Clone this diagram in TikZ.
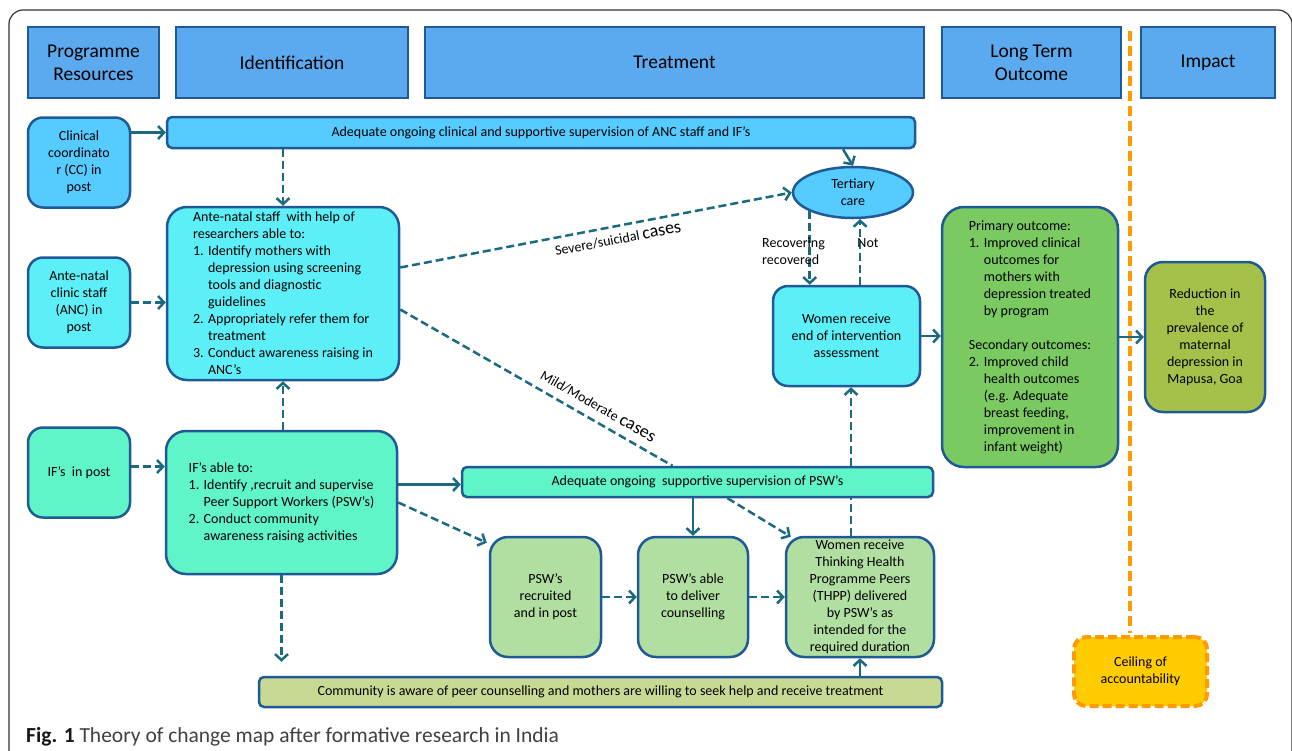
\documentclass[tikz,border=0pt]{standalone}
\usepackage{fontspec}
\setmainfont{Carlito}
\usetikzlibrary{arrows.meta}
\usetikzlibrary{shapes.geometric}
\usetikzlibrary{calc}
\definecolor{hdrfill}{HTML}{5BA9EF}
\definecolor{edgeblue}{HTML}{1F5A96}
\definecolor{skyfill}{HTML}{55CBFF}
\definecolor{cyanfill}{HTML}{5DEFF7}
\definecolor{aquafill}{HTML}{60F5C9}
\definecolor{pswfill}{HTML}{B1DEA1}
\definecolor{commfill}{HTML}{C8D994}
\definecolor{outfill}{HTML}{7ACA61}
\definecolor{impfill}{HTML}{A6C14A}
\definecolor{arrowteal}{HTML}{1B6A80}
\definecolor{ceilorange}{HTML}{FF9A00}
\definecolor{ceilfill}{HTML}{FFCC00}
\newcommand{\lnum}[1]{\makebox[15pt][l]{#1}}
\newcommand{\lindent}{\hspace*{15pt}}

\begin{document}
\begin{tikzpicture}[x=1pt, y=-1pt,
        header/.style={draw=edgeblue, fill=hdrfill, line width=2pt, align=center,
            minimum height=71pt, inner sep=0pt, font=\fontsize{19.5}{23}\selectfont},
        box/.style={draw=edgeblue, line width=2.5pt, align=center, inner sep=0pt,
            font=\fontsize{14}{17}\selectfont},
        resbox/.style={box, rounded corners=15pt, minimum width=102pt, minimum height=90pt},
        pswbox/.style={box, fill=pswfill, rounded corners=18pt, minimum height=120pt},
        bar/.style={box, rounded corners=5pt, minimum height=30pt},
        dline/.style={draw=arrowteal, line width=2.5pt, dash pattern=on 8pt off 4pt},
        conn/.style={draw=arrowteal, line width=2.5pt, -{Straight Barb[length=6pt,width=13pt]}},
        dconn/.style={conn, dash pattern=on 8pt off 4pt},
        lbl/.style={font=\fontsize{14}{17}\selectfont, inner sep=2pt}]

    \useasboundingbox (0,0) rectangle (1292,750);
    \clip (0,0) rectangle (1292,750);
    \draw[black!80, line width=1.2pt, rounded corners=14pt] (9,10) rectangle (1292,765);

    % column headers
    \node[header, minimum width=131pt] (hres) at (93.5,62.5) {Programme\\Resources};
    \node[header, minimum width=232pt] (hid) at (292,62.5) {Identification};
    \node[header, minimum width=499pt] (htreat) at (674.5,62.5) {Treatment};
    \node[header, minimum width=179pt] (hlong) at (1031.5,62.5) {Long Term\\Outcome};
    \node[header, minimum width=134pt] (himp) at (1208,62.5) {Impact};

    % ceiling of accountability
    \coordinate (ceiltop) at (1130,31);
    \node[draw=ceilorange, fill=ceilfill, line width=4pt, dash pattern=on 9pt off 4pt,
        rounded corners=12pt, minimum width=133pt, minimum height=69pt, align=center,
        font=\fontsize{14}{17}\selectfont] (ceiling) at (1140.5,671.5) {Ceiling of\\accountability};
    \draw[ceilorange, line width=4pt, dash pattern=on 10pt off 5pt] (ceiltop) -- ([yshift=2pt]ceiltop |- ceiling.north);

    % programme resources
    \node[resbox, fill=skyfill] (cc) at (79,162.5) {Clinical\\coordinato\\r (CC) in\\post};
    \node[resbox, fill=cyanfill] (ancstaff) at (79,302.5) {Ante-natal\\clinic staff\\(ANC) in\\post};
    \node[resbox, fill=aquafill] (ifpost) at (79,472.5) {IF’s\ \ in post};

    % identification
    \node[bar, fill=skyfill, minimum width=748pt, minimum height=31pt] (supanc) at (541,132.5)
        {Adequate ongoing clinical and supportive supervision of ANC staff and IF’s};
    \node[box, fill=cyanfill, rounded corners=20pt, minimum width=232pt, minimum height=173pt,
        align=left] (anc) at (283,293.5)
        {Ante-natal staff\ \ with help of\\
         researchers able to:\\
         \lnum{1.}Identify mothers with\\
         \lindent depression using screening\\
         \lindent tools and diagnostic\\
         \lindent guidelines\\
         \lnum{2.}Appropriately refer them for\\
         \lindent treatment\\
         \lnum{3.}Conduct awareness raising in\\
         \lindent ANC’s};
    \node[box, fill=aquafill, rounded corners=20pt, minimum width=231pt, minimum height=143pt,
        align=left] (ifable) at (281.5,502.5)
        {IF’s able to:\\
         \lnum{1.}Identify ,recruit and supervise\\
         \lindent Peer Support Workers (PSW’s)\\
         \lnum{2.}Conduct community\\
         \lindent awareness raising activities};

    % treatment
    \node[box, ellipse, fill=skyfill, minimum width=120pt, minimum height=51pt] (tert) at (853,192.5) {Tertiary\\care};
    \node[box, fill=cyanfill, rounded corners=15pt, minimum width=147pt, minimum height=100pt] (assess)
        at (846.5,336) {Women receive\\end of intervention\\assessment};
    \node[bar, fill=aquafill, minimum width=471pt] (suppsw) at (697.5,482)
        {Adequate ongoing\ \ supportive supervision of PSW’s};
    \node[pswbox, minimum width=111pt] (pswrec) at (545.5,597) {PSW’s\\recruited\\and in post};
    \node[pswbox, minimum width=110pt] (pswable) at (693,597) {PSW’s able\\to deliver\\counselling};
    \node[pswbox, minimum width=148pt] (thpp) at (860,597)
        {Women receive\\Thinking Health\\Programme Peers\\(THPP) delivered\\by PSW’s as\\intended for the\\required duration};
    \node[bar, fill=commfill, minimum width=683pt] (comm) at (600.5,692)
        {Community is aware of peer counselling and mothers are willing to seek help and receive treatment};

    % outcome and impact
    \node[box, fill=outfill, rounded corners=22pt, minimum width=176pt, minimum height=260pt,
        align=left] (primary) at (1030,337)
        {Primary outcome:\\
         \lnum{1.}Improved clinical\\
         \lindent outcomes for\\
         \lindent mothers with\\
         \lindent depression treated\\
         \lindent by program\\[17pt]
         Secondary outcomes:\\
         \lnum{2.}Improved child\\
         \lindent health outcomes\\
         \lindent (e.g. Adequate\\
         \lindent breast feeding,\\
         \lindent improvement in\\
         \lindent infant weight)};
    \node[box, fill=impfill, rounded corners=18pt, minimum width=120pt, minimum height=150pt] (impact)
        at (1205,337) {Reduction in\\the\\prevalence of\\maternal\\depression in\\Mapusa, Goa};

    % connectors
    \draw[conn] (cc.east |- supanc.west) -- (supanc.west);
    \draw[dconn] (anc.north |- supanc.south) -- (anc.north);
    \draw[conn] ([xshift=-10pt]tert.north |- supanc.south) -- (tert.north);
    \draw[dconn] (ancstaff.east) -- (ancstaff.east -| anc.west);
    \draw[dconn] (ifable.north -| anc.south) -- (anc.south);
    \draw[dconn] ([yshift=26pt]anc.east) -- (tert.west)
        node[lbl, sloped, below=5pt, pos=0.55] {Severe/suicidal {\fontsize{18}{18}\selectfont cases}};
    \draw[dline] ([yshift=-16pt]anc.east) -- ([xshift=-25pt]suppsw.north)
        node[lbl, sloped, above=6pt, pos=0.7] {Mild/Moderate {\fontsize{18}{18}\selectfont cases}};
    \draw[dconn] (tert.south west) -- (tert.south west |- assess.north);
    \draw[dconn] (tert.-75 |- assess.north) -- (tert.-75);
    \node[lbl, align=left, anchor=west] (recov) at (760,251) {Recovering\\recovered};
    \node[lbl] (notlbl) at (868,243) {Not};
    \draw[conn] (assess.east) -- (assess.east -| primary.west);
    \draw[conn] (primary.east) -- (impact.west);
    \draw[dconn] ([yshift=6pt]ifpost.east) -- ([yshift=6pt]ifpost.east -| ifable.west);
    \draw[conn] ([yshift=18pt]ifable.east) -- ([yshift=18pt]ifable.east -| suppsw.west);
    \draw[dconn] (ifable.east) -- ([xshift=-2pt,yshift=-7pt]pswrec.north west);
    \draw[dconn, shorten >=14pt] (ifable.south) -- (ifable.south |- comm.north);
    \draw[conn] (pswable.north |- suppsw.south) -- (pswable.north);
    \draw[dconn] ([xshift=30pt]suppsw.south) -- ([xshift=6pt,yshift=-1pt]thpp.north west);
    \coordinate (thppup) at ([xshift=-9pt]thpp.north);
    \draw[dline] (thppup) -- (thppup |- suppsw.south);
    \draw[dconn] (thppup |- suppsw.north) -- (thppup |- assess.south);
    \draw[dconn] (pswrec.east) -- (pswable.west);
    \draw[dconn] (pswable.east) -- (thpp.west);
    \draw[conn] (thpp.south |- comm.north) -- (thpp.south);

    % caption
    \node[anchor=base west, inner sep=0pt, text=black!75, font=\fontsize{21.5}{24}\selectfont] (caption)
        at (26,742) {\textbf{\color{black!90}Fig. 1} Theory of change map after formative research in India};
\end{tikzpicture}
\end{document}
